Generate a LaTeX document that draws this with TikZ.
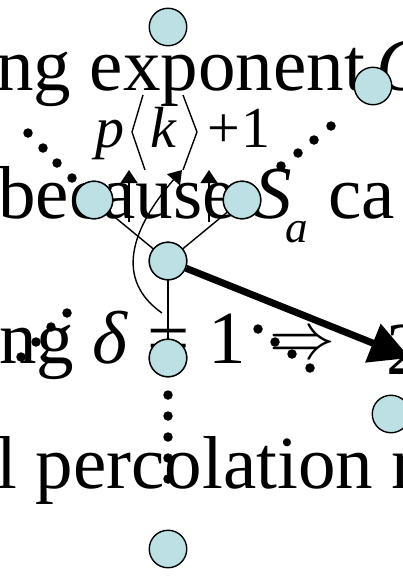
\documentclass[tikz,border=0pt]{standalone}
\usepackage{fontspec}
\setmainfont{Liberation Serif}
\usetikzlibrary{arrows.meta}
\definecolor{nodefill}{RGB}{189,224,228}
\begin{document}
\begin{tikzpicture}[x=1pt,y=-1pt,
  vert/.style={circle,draw=black,fill=nodefill,line width=1.4pt,minimum size=37.5pt,inner sep=0pt},
  dotn/.style={circle,fill=black,minimum size=9.5pt,inner sep=0pt},
  bigtxt/.style={anchor=base west,inner sep=0pt,font=\fontsize{75}{80}\selectfont},
  eqtxt/.style={anchor=base west,inner sep=0pt,font=\fontsize{58}{62}\selectfont},
  subtxt/.style={anchor=base west,inner sep=0pt,font=\fontsize{45}{50}\selectfont},
  edge/.style={line width=1.4pt},
  thinarrow/.style={line width=1.4pt,-{Triangle[width=17pt,length=13pt]}},
  thickarrow/.style={line width=7pt,-{Triangle[width=40pt,length=40pt]}}]
\useasboundingbox (0,0) rectangle (403,576);
\fill[white] (0,0) rectangle (403,576);
% texts
\node[bigtxt] (t1) at (-4,90) {ng exponent};
\node[bigtxt] (t1c) at (376,90) {\textit{C}};
\node[eqtxt] (tp) at (95,147) {\textit{p}};
\node[eqtxt] (tk) at (150,147) {\textit{k}};
\node[eqtxt] (tplus) at (207,147) {+};
\node[eqtxt] (tone) at (241,147) {1};
\node[bigtxt] (t3) at (-2,218) {because \textit{S}};
\node[subtxt] (t3a) at (285,242) {\textit{a}};
\node[bigtxt] (t3b) at (328,218) {ca};
\node[bigtxt] (t4) at (-1,363) {ng \textit{δ} = 1};
\node[inner sep=0pt] (t4arr) at (302,346) {\scalebox{6.6}{$\Rightarrow$}};
\node[bigtxt] (t4b) at (386,374) {2};
\node[bigtxt] (t5) at (-4,488) {l percolation n};
% angle brackets
\draw[edge] (143,95) -- (132,132) -- (145,170);
\draw[edge] (183,95) -- (197,132) -- (183,170);
% vertices
\node[vert] (n1) at (168,27) {};
\node[vert] (n2) at (373,86) {};
\node[vert] (n3) at (94,200) {};
\node[vert] (n4) at (242,200) {};
\node[vert] (n5) at (168,261) {};
\node[vert] (n6) at (168,358) {};
\node[vert] (n7) at (391,414) {};
\node[vert] (n8) at (168,549) {};
% coordinates
\coordinate (c1) at (162,313);
\coordinate (c2) at (182,170);
\coordinate (a1) at (129,222);
\coordinate (a2) at (129,170);
\coordinate (b1) at (209,222);
\coordinate (b2) at (209,170);
\coordinate (tip) at (410,358);
% edges
\draw[edge] (n3) -- (n5);
\draw[edge] (n4) -- (n5);
\draw[edge] (n5) -- (n6);
\draw[thickarrow] (n5) -- (tip);
\draw[thinarrow] (a1) -- (a2);
\draw[thinarrow] (b1) -- (b2);
\draw[thinarrow] (c1) .. controls (115,280) and (130,230) .. (c2);
% redraw vertices on top of the edges
\node[vert] at (n3) {};
\node[vert] at (n4) {};
\node[vert] at (n5) {};
\node[vert] at (n6) {};
% dots
\node[dotn] (d1) at (28,133) {};
\node[dotn] (d2) at (43,148) {};
\node[dotn] (d3) at (57,163) {};
\node[dotn] (d4) at (72,178) {};
\node[dotn] (e1) at (331,126) {};
\node[dotn] (e2) at (314,140) {};
\node[dotn] (e3) at (298,153) {};
\node[dotn] (e4) at (281,166) {};
\node[dotn] (f1) at (168,395) {};
\node[dotn] (f2) at (168,416) {};
\node[dotn] (f3) at (168,437) {};
\node[dotn] (f4) at (168,458) {};
\node[dotn] (f5) at (168,479) {};
\node[dotn] (g1) at (67,313) {};
\node[dotn] (g2) at (51,327) {};
\node[dotn] (g3) at (36,342) {};
\node[dotn] (g4) at (21,357) {};
\node[dotn] (h1) at (258,329) {};
\node[dotn] (h2) at (275,342) {};
\node[dotn] (h3) at (292,354) {};
\node[dotn] (h4) at (310,368) {};
\end{tikzpicture}
\end{document}
